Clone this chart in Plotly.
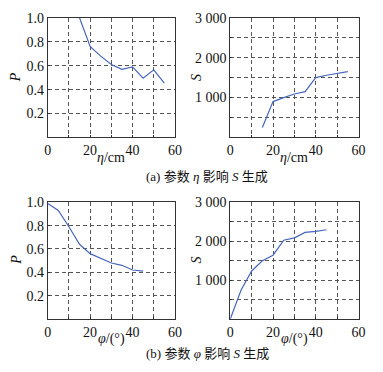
import plotly.graph_objects as go

W, H = 383, 372

eta = [15, 20, 25, 30, 35, 40, 45, 50, 55]
p_eta = [1.0, 0.76, 0.68, 0.61, 0.57, 0.59, 0.495, 0.565, 0.455]
s_eta = [250, 900, 1000, 1090, 1150, 1500, 1560, 1610, 1650]

phi = [0, 5, 10, 15, 20, 25, 30, 35, 40, 45]
p_phi = [0.99, 0.93, 0.79, 0.64, 0.56, 0.52, 0.48, 0.46, 0.42, 0.41]
phi_s = [0, 5, 10, 15, 20, 25, 30, 35, 40, 45]
s_phi = [0, 740, 1235, 1496, 1640, 2025, 2084, 2227, 2252, 2294]

x_ticks = [0, 10, 20, 30, 40, 50, 60]
x_text = ["0", "", "20", "", "40", "", "60"]
p_ticks = [0, 0.2, 0.4, 0.6, 0.8, 1.0]
p_text = ["", "0.2", "0.4", "0.6", "0.8", "1.0"]
s_ticks = [0, 500, 1000, 1500, 2000, 2500, 3000]
s_text = ["", "", "1 000", "", "2 000", "", "3 000"]

LINE = "#4767bd"
AX = "#333333"
FONT = "Liberation Serif"
CJK = "Noto Sans CJK SC"

def px(x):
    return x / W

def py(y):
    return 1 - y / H

fig = go.Figure()
fig.add_trace(go.Scatter(x=eta, y=p_eta, mode="lines", line=dict(color=LINE, width=1.2), xaxis="x", yaxis="y"))
fig.add_trace(go.Scatter(x=eta, y=s_eta, mode="lines", line=dict(color=LINE, width=1.2), xaxis="x2", yaxis="y2"))
fig.add_trace(go.Scatter(x=phi, y=p_phi, mode="lines", line=dict(color=LINE, width=1.2), xaxis="x3", yaxis="y3"))
fig.add_trace(go.Scatter(x=phi_s, y=s_phi, mode="lines", line=dict(color=LINE, width=1.2), xaxis="x4", yaxis="y4"))

xl = [px(45), px(176)]
xr = [px(233), px(365)]
yt = [py(133), py(11)]
yb = [py(318), py(199)]

common = dict(showline=True, linecolor=AX, linewidth=1, mirror=True,
              showgrid=True, gridcolor="#555555", griddash="4px,3px", gridwidth=1,
              zeroline=False, ticks="inside", ticklen=2, tickcolor=AX,
              tickfont=dict(family=FONT, size=14, color="#111"))

def xa(dom, anchor):
    return dict(domain=dom, anchor=anchor, range=[0, 60], tickmode="array",
                tickvals=x_ticks, ticktext=x_text, **common)

def ya(dom, anchor, kind):
    if kind == "p":
        return dict(domain=dom, anchor=anchor, range=[0, 1], tickmode="array",
                    tickvals=p_ticks, ticktext=p_text, **common)
    return dict(domain=dom, anchor=anchor, range=[0, 3000], tickmode="array",
                tickvals=s_ticks, ticktext=s_text, **common)

fig.update_layout(
    width=W, height=H, margin=dict(l=0, r=0, t=0, b=0),
    font=dict(family=FONT),
    paper_bgcolor="white", plot_bgcolor="white", showlegend=False,
    xaxis=xa(xl, "y"), yaxis=ya(yt, "x", "p"),
    xaxis2=xa(xr, "y2"), yaxis2=ya(yt, "x2", "s"),
    xaxis3=xa(xl, "y3"), yaxis3=ya(yb, "x3", "p"),
    xaxis4=xa(xr, "y4"), yaxis4=ya(yb, "x4", "s"),
)

ann = []
def add(text, x, y, angle=0, size=14, family=FONT):
    ann.append(dict(text=text, x=px(x), y=py(y), xref="paper", yref="paper",
                    showarrow=False, textangle=angle, xanchor="center", yanchor="middle",
                    font=dict(family=family, size=size, color="#111")))

add("<i>η</i>/cm", 110.5, 153)
add("<i>η</i>/cm", 299, 153)
add("<i>φ</i>/(°)", 110.5, 338)
add("<i>φ</i>/(°)", 299, 338)
add("<i>P</i>", 12, 72, angle=-90)
add("<i>S</i>", 198, 72, angle=-90)
add("<i>P</i>", 12, 258, angle=-90)
add("<i>S</i>", 198, 258, angle=-90)
add("(a) 参数 <i>η</i> 影响 <i>S</i> 生成", 209, 173, size=13, family=FONT + ", " + CJK)
add("(b) 参数 <i>φ</i> 影响 <i>S</i> 生成", 210, 353, size=13, family=FONT + ", " + CJK)
fig.update_layout(annotations=ann)

fig.write_html("out.html", config={"displayModeBar": False},
               post_script="document.body.style.margin='0';document.body.style.padding='0';")
